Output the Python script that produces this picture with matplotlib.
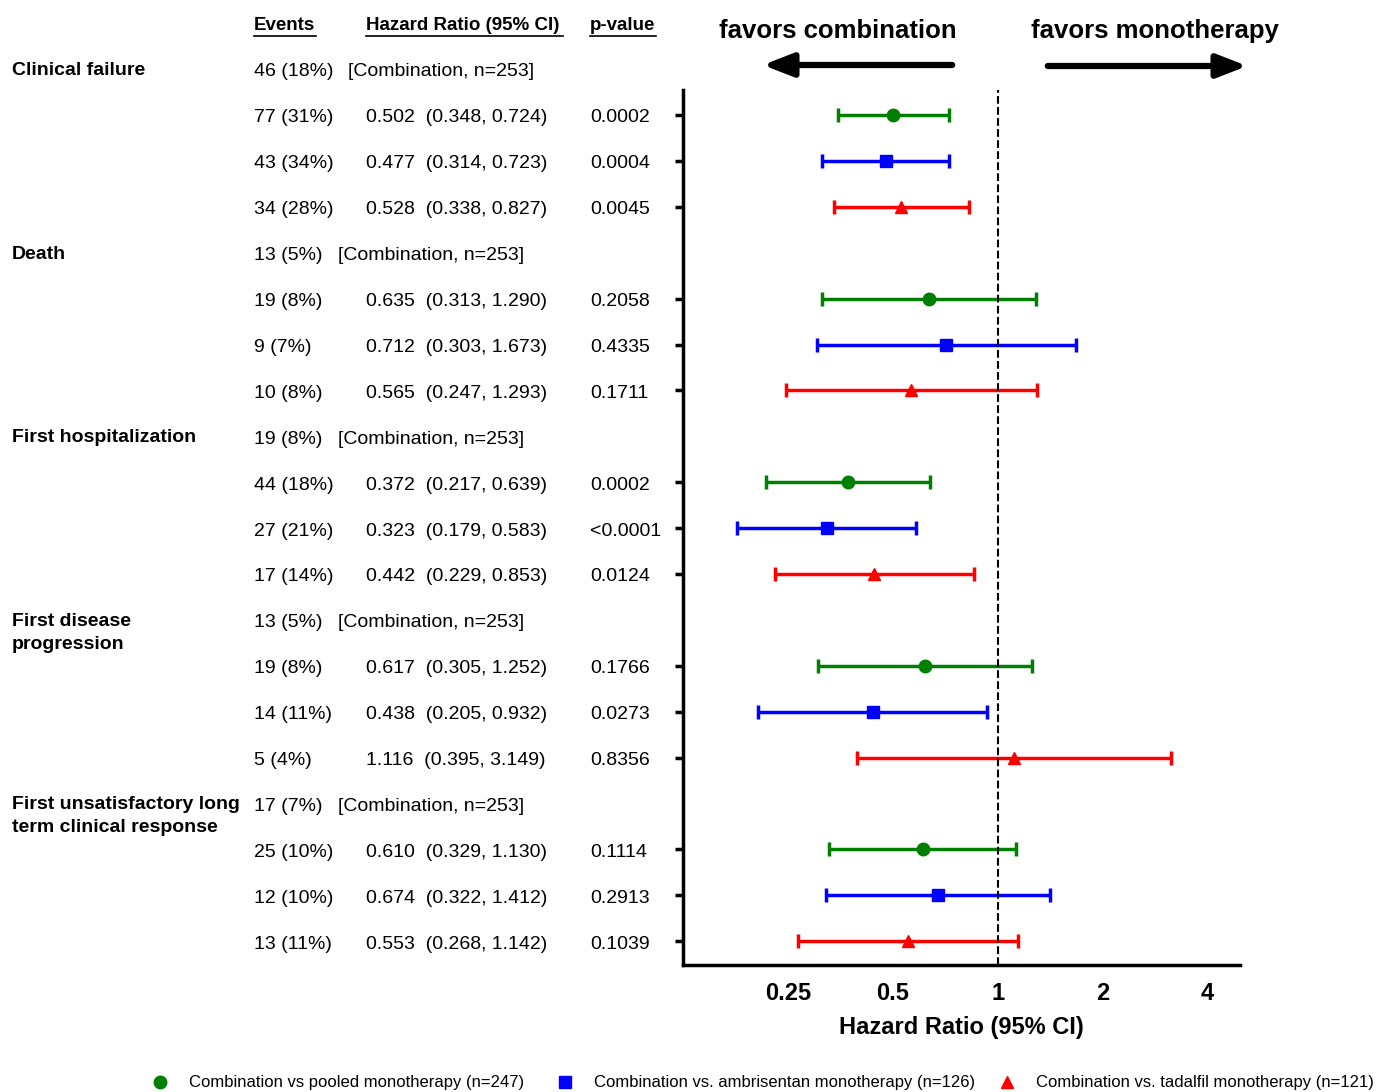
import numpy as np
import matplotlib.pyplot as plt

plt.rcParams['font.family'] = ['Liberation Sans', 'DejaVu Sans']

outcomes = ["Clinical failure", "Death", "First hospitalization", "First disease\nprogression",
            "First unsatisfactory long\nterm clinical response"]
ref_events = ["46 (18%)", "13 (5%)", "19 (8%)", "13 (5%)", "17 (7%)"]
events = [["77 (31%)", "43 (34%)", "34 (28%)"],
          ["19 (8%)", "9 (7%)", "10 (8%)"],
          ["44 (18%)", "27 (21%)", "17 (14%)"],
          ["19 (8%)", "14 (11%)", "5 (4%)"],
          ["25 (10%)", "12 (10%)", "13 (11%)"]]
hr = [[0.502, 0.477, 0.528], [0.635, 0.712, 0.565], [0.372, 0.323, 0.442],
      [0.617, 0.438, 1.116], [0.610, 0.674, 0.553]]
lo = [[0.348, 0.314, 0.338], [0.313, 0.303, 0.247], [0.217, 0.179, 0.229],
      [0.305, 0.205, 0.395], [0.329, 0.322, 0.268]]
hi = [[0.724, 0.723, 0.827], [1.290, 1.673, 1.293], [0.639, 0.583, 0.853],
      [1.252, 0.932, 3.149], [1.130, 1.412, 1.142]]
pvals = [["0.0002", "0.0004", "0.0045"], ["0.2058", "0.4335", "0.1711"],
         ["0.0002", "<0.0001", "0.0124"], ["0.1766", "0.0273", "0.8356"],
         ["0.1114", "0.2913", "0.1039"]]
comparisons = ["Combination vs pooled monotherapy (n=247)",
               "Combination vs. ambrisentan monotherapy (n=126)",
               "Combination vs. tadalfil monotherapy (n=121)"]
colors = ["#008000", "#0000ff", "#ff0000"]
markers = ["o", "s", "^"]
xticks = [0.25, 0.5, 1, 2, 4]

W, H = 1378, 1092
fig = plt.figure(figsize=(W / 100, H / 100), dpi=100)

def fx(x): return x / W
def fy(y): return 1 - y / H

y0, step = 71, 45.9
def row_px(i): return y0 + i * step

top, bot = 90, 965
ax = fig.add_axes([fx(683), fy(bot), fx(1240 - 683), (bot - top) / H])
ax.set_xscale('log', base=2)
ax.set_xlim(0.125, 4.96)
ax.set_ylim((bot - y0) / step, (top - y0) / step)

row_ticks = []
for g in range(5):
    for k in range(3):
        i = g * 4 + 1 + k
        row_ticks.append(i)
        ax.errorbar(hr[g][k], i - 0.04, xerr=[[hr[g][k] - lo[g][k]], [hi[g][k] - hr[g][k]]],
                    fmt=markers[k], color=colors[k], ms=9 if k < 2 else 8, capsize=5,
                    elinewidth=2.5, capthick=2.5)
ax.axvline(1, color='black', ls='--', lw=1.5)
ax.set_yticks([t - 0.04 for t in row_ticks])
ax.set_yticklabels([])
ax.tick_params(axis='y', length=6, width=2.5, direction='out')
ax.set_xticks(xticks)
ax.set_xticklabels(["0.25", "0.5", "1", "2", "4"], fontsize=17, fontweight='bold')
ax.minorticks_off()
ax.tick_params(axis='x', length=0, pad=12)
for s in ['top', 'right']:
    ax.spines[s].set_visible(False)
for s in ['left', 'bottom']:
    ax.spines[s].set_linewidth(2.5)
ax.set_xlabel("Hazard Ratio (95% CI)", fontsize=17, fontweight='bold', labelpad=8)

# headers
for x, t in [(254, "Events"), (366, "Hazard Ratio (95% CI)"), (590, "p-value")]:
    fig.text(fx(x), fy(25), t, fontsize=13.5, fontweight='bold', va='center', ha='left')
fig.text(fx(838), fy(31), "favors combination", fontsize=18.5, fontweight='bold', ha='center', va='center')
fig.text(fx(1155), fy(31), "favors monotherapy", fontsize=18.5, fontweight='bold', ha='center', va='center')
for (x1, x2, y) in [(955, 760, 65), (1045, 1250, 66)]:
    fig.add_artist(plt.matplotlib.patches.FancyArrowPatch(
        (fx(x1), fy(y)), (fx(x2), fy(y)), transform=fig.transFigure,
        arrowstyle='-|>,head_length=18,head_width=7', lw=4.5, color='black', mutation_scale=1))
for (xa, xb) in [(254, 316), (366, 563), (590, 656)]:
    fig.add_artist(plt.Line2D([fx(xa), fx(xb)], [fy(36), fy(36)], color='black', lw=1.2))

for g in range(5):
    i0 = g * 4
    fig.text(fx(12), fy(row_px(i0) - 9), outcomes[g], fontsize=14, fontweight='bold',
             va='top', ha='left', linespacing=1.45)
    gap = 348 if len(ref_events[g]) == 8 else 338
    fig.text(fx(254), fy(row_px(i0) + 1), ref_events[g], fontsize=14, va='center')
    fig.text(fx(gap), fy(row_px(i0) + 1), "[Combination, n=253]", fontsize=14, va='center')
    for k in range(3):
        y = fy(row_px(i0 + 1 + k) + 1)
        fig.text(fx(254), y, events[g][k], fontsize=14, va='center')
        fig.text(fx(366), y, f"{hr[g][k]:.3f}  ({lo[g][k]:.3f}, {hi[g][k]:.3f})", fontsize=14, va='center')
        fig.text(fx(590), y, pvals[g][k], fontsize=14, va='center')

# legend
for k, (mx, tx) in enumerate([(160, 189), (565, 594), (1007, 1036)]):
    fig.add_artist(plt.Line2D([fx(mx)], [fy(1082)], marker=markers[k], color=colors[k], ms=9, ls=''))
    fig.text(fx(tx), fy(1083), comparisons[k], fontsize=12, va='center')

fig.savefig("out.png", dpi=100)
